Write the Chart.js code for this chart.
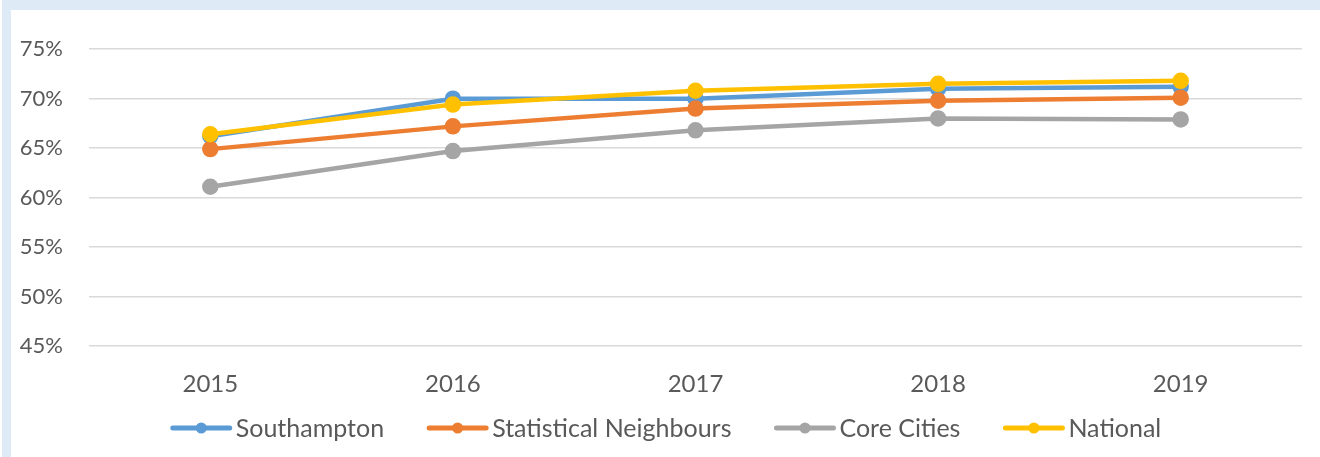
<!DOCTYPE html>
<html>
<head>
<meta charset="utf-8">
<script src="https://cdn.jsdelivr.net/npm/chart.js@4/dist/chart.umd.min.js"></script>
<style>
  body { margin: 0; background: #fff; }
  #frame { position: absolute; left: 2px; top: 0; width: 1318px; height: 457px; background: #deebf7; }
  #box { position: absolute; left: 11px; top: 10px; width: 1309px; height: 447px; background: #fff; }
</style>
</head>
<body>
<div id="frame"></div>
<div id="box"><canvas id="myChart"></canvas></div>
<script>
const years = ['2015', '2016', '2017', '2018', '2019'];
const southampton = [66.2, 70.0, 70.0, 71.0, 71.2];
const statNeighbours = [64.9, 67.2, 69.0, 69.8, 70.1];
const coreCities = [61.1, 64.7, 66.8, 68.0, 67.9];
const national = [66.4, 69.4, 70.8, 71.5, 71.8];
const yTicks = [45, 50, 55, 60, 65, 70, 75];

const textGrey = '#595959';

function serie(label, values, colour, order) {
    return {
        label: label,
        data: values,
        borderColor: colour,
        backgroundColor: colour,
        pointBackgroundColor: colour,
        pointBorderColor: colour,
        borderWidth: 4.5,
        pointRadius: 6,
        pointHoverRadius: 6,
        tension: 0,
        order: order
    };
}

// legend drawn by hand: line with dot in the middle, like Excel
const legendaLinea = {
    id: 'legendaLinea',
    afterDraw(chart) {
        const c = chart.ctx;
        const sw = 63, gapTxt = 3, gapItem = 42;
        c.save();
        c.font = '25px Lato';
        c.textBaseline = 'middle';
        let items = chart.data.datasets.map(d => ({ d: d, w: c.measureText(d.label).width }));
        let total = items.reduce((s, it) => s + sw + gapTxt + it.w, 0) + gapItem * (items.length - 1);
        let x = chart.width / 2 - total / 2;
        const y = 418;
        items.forEach(it => {
            c.strokeStyle = it.d.borderColor;
            c.lineWidth = 5;
            c.lineCap = 'round';
            c.beginPath();
            c.moveTo(x + 3, y);
            c.lineTo(x + sw - 3, y);
            c.stroke();
            c.fillStyle = it.d.borderColor;
            c.beginPath();
            c.arc(x + sw / 2, y, 5.5, 0, Math.PI * 2);
            c.fill();
            c.fillStyle = textGrey;
            c.fillText(it.d.label, x + sw + gapTxt, y + 1);
            x += sw + gapTxt + it.w + gapItem;
        });
        c.restore();
    }
};

const ctx = document.getElementById('myChart');
new Chart(ctx, {
    type: 'line',
    data: {
        labels: years,
        datasets: [
            serie('Southampton', southampton, '#5b9bd5', 4),
            serie('Statistical Neighbours', statNeighbours, '#ed7d31', 3),
            serie('Core Cities', coreCities, '#a5a5a5', 2),
            serie('National', national, '#ffc000', 1)
        ]
    },
    options: {
        responsive: true,
        maintainAspectRatio: false,
        animation: false,
        layout: { padding: { top: 32, right: 18, left: 0, bottom: 0 } },
        plugins: {
            legend: { display: false },
            tooltip: { enabled: false }
        },
        scales: {
            x: {
                offset: true,
                grid: { display: false, drawTicks: false },
                border: { display: false },
                ticks: { color: textGrey, font: { family: 'Lato', size: 24 }, padding: 24 },
                afterFit(scale) { scale.height = 111; }
            },
            y: {
                min: 45,
                max: 75,
                afterBuildTicks(scale) { scale.ticks = yTicks.map(v => ({ value: v })); },
                grid: { color: '#d9d9d9', lineWidth: 1.5, drawTicks: false },
                border: { display: false },
                ticks: {
                    color: textGrey,
                    font: { family: 'Lato', size: 22 },
                    padding: 26,
                    callback: v => v + '%'
                },
                afterFit(scale) { scale.width = 78; }
            }
        }
    },
    plugins: [legendaLinea]
});
</script>
</body>
</html>
